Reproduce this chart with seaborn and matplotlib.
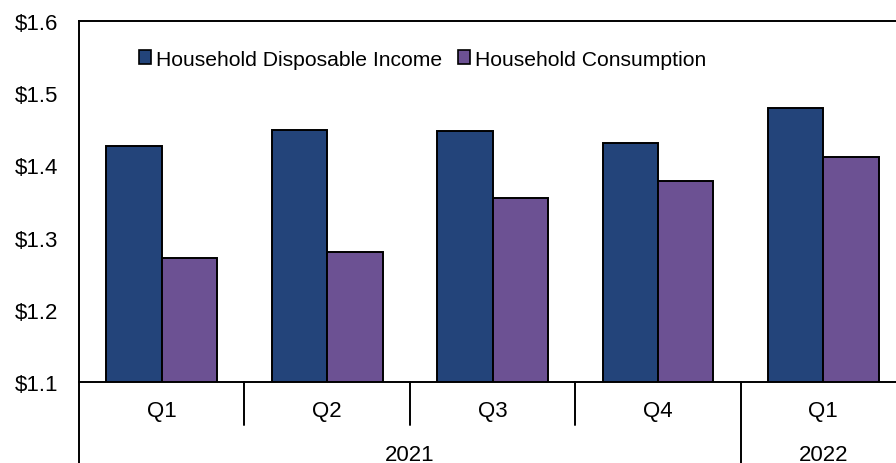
import matplotlib
matplotlib.use("Agg")
import matplotlib.pyplot as plt
import matplotlib.transforms as mtransforms
import seaborn as sns
import pandas as pd

# Quarterly household figures (trillions of dollars)
periods = ["2021 Q1", "2021 Q2", "2021 Q3", "2021 Q4", "2022 Q1"]
quarter_labels = ["Q1", "Q2", "Q3", "Q4", "Q1"]
years = ["2021", "2022"]
year_spans = [(0, 3), (4, 4)]
income = [1.427, 1.449, 1.448, 1.431, 1.480]
consumption = [1.272, 1.280, 1.355, 1.379, 1.411]
series_names = ["Household Disposable Income", "Household Consumption"]
colors = ["#23447A", "#6C5193"]
y_ticks = [1.1, 1.2, 1.3, 1.4, 1.5, 1.6]

df = pd.DataFrame({
    "period": periods * 2,
    "value": income + consumption,
    "series": [series_names[0]] * len(periods) + [series_names[1]] * len(periods),
})

sns.set_style("white")
plt.rcParams["font.family"] = ["Liberation Sans", "DejaVu Sans"]
plt.rcParams["text.color"] = "black"
plt.rcParams["ytick.color"] = "black"
plt.rcParams["ytick.labelcolor"] = "black"

fig = plt.figure(figsize=(8.96, 4.64), dpi=100)
ax = fig.add_axes([0.0882, 0.1746, 0.923, 0.778])

sns.barplot(
    data=df, x="period", y="value", hue="series", order=periods,
    hue_order=series_names, palette=colors, width=0.67, gap=0,
    edgecolor="black", linewidth=1.4, saturation=1, ax=ax, errorbar=None,
)

ax.set_xlim(-0.5, len(periods) - 0.5)
ax.set_ylim(1.1, 1.6)
ax.set_yticks(y_ticks)
ax.set_yticklabels([f"${v:.1f}" for v in y_ticks], fontsize=16, color="black")
ax.tick_params(axis="y", direction="in", length=5, width=1.3, color="black", pad=15)

ax.set_xticks([])
ax.set_xlabel("")
ax.set_ylabel("")

for side in ["left", "top", "bottom", "right"]:
    ax.spines[side].set_color("black")
    ax.spines[side].set_linewidth(1.4)

# Two-level category axis below the plot
trans = mtransforms.blended_transform_factory(ax.transData, ax.transAxes)
for i, q in enumerate(quarter_labels):
    ax.text(i, -0.080, q, transform=trans, ha="center", va="center", fontsize=16, color="black")
year_starts = [s for s, _ in year_spans]
for b in range(len(periods) + 1):
    x = b - 0.5
    y_end = -0.26 if b in year_starts or b == len(periods) else -0.119
    ax.plot([x, x], [0, y_end], transform=trans, color="black", lw=1.4, clip_on=False)
for yr, (s, e) in zip(years, year_spans):
    ax.text((s + e) / 2, -0.200, yr, transform=trans, ha="center", va="center", fontsize=16, color="black")

leg = ax.legend(
    loc="center left", bbox_to_anchor=(0.0726, 0.8947), ncol=2, frameon=False,
    handlelength=0.58, handleheight=0.58, handletextpad=0.24, columnspacing=0.72,
    fontsize=15.2, borderaxespad=0, borderpad=0,
)
for t in leg.get_texts():
    t.set_color("black")
for h in leg.legend_handles:
    h.set_edgecolor("black")
    h.set_linewidth(1.2)

fig.savefig("out.png", dpi=100)
